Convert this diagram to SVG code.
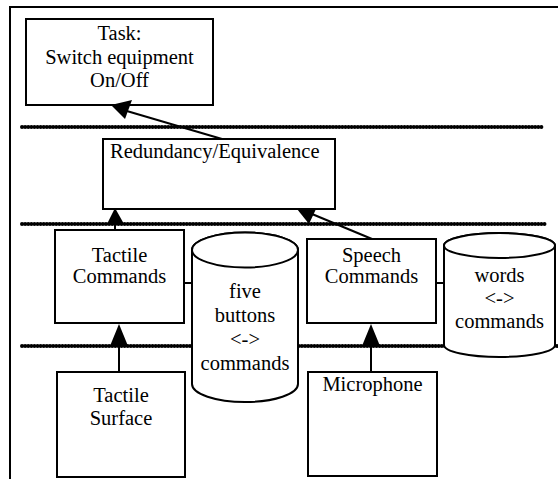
<svg xmlns="http://www.w3.org/2000/svg" width="558" height="479" viewBox="0 0 558 479">
<style>
.box{fill:#fff;stroke:#000;stroke-width:2}
.cyl{fill:#fff;stroke:#000;stroke-width:2}
.sep{stroke:#000;stroke-width:4;stroke-dasharray:0.01 3.1;stroke-linecap:round;fill:none}
.ln{stroke:#000;stroke-width:2;fill:none}
text{font-family:'Liberation Serif','DejaVu Serif',serif;font-size:20.5px;fill:#000;text-anchor:middle}
</style>
<rect x="0" y="0" width="558" height="479" fill="#fff"/>
<path class="ln" d="M10,479 V7 H558"/>
<g id="separators">
<line class="sep" x1="22" y1="127" x2="543" y2="127"/>
<line class="sep" x1="22" y1="224" x2="547" y2="224"/>
<line class="sep" x1="22" y1="346" x2="557" y2="346"/>
</g>
<g id="task" font-family="Liberation Serif, serif">
<rect class="box" x="26" y="19" width="187" height="86"/>
<text x="119.5" y="40">Task:</text>
<text x="119.5" y="64">Switch equipment</text>
<text x="119.5" y="87">On/Off</text>
</g>
<g id="redundancy" font-family="Liberation Serif, serif">
<rect class="box" x="103" y="139" width="232" height="70"/>
<text x="110" y="158" style="text-anchor:start">Redundancy/Equivalence</text>
</g>
<g id="tactile-commands" font-family="Liberation Serif, serif">
<rect class="box" x="55" y="230" width="129" height="93"/>
<text x="119.5" y="262">Tactile</text>
<text x="119.5" y="283">Commands</text>
</g>
<g id="speech-commands" font-family="Liberation Serif, serif">
<rect class="box" x="307" y="239" width="129" height="84"/>
<text x="371.5" y="262">Speech</text>
<text x="371.5" y="283">Commands</text>
</g>
<g id="tactile-surface" font-family="Liberation Serif, serif">
<rect class="box" x="57" y="372" width="128" height="105"/>
<text x="121" y="402">Tactile</text>
<text x="121" y="425">Surface</text>
</g>
<g id="microphone" font-family="Liberation Serif, serif">
<rect class="box" x="308" y="372" width="129" height="104"/>
<text x="372.5" y="391">Microphone</text>
</g>
<g id="five-buttons" font-family="Liberation Serif, serif">
<path class="cyl" d="M192,250 V384 A53,18 0 0 0 298,384 V250 A53,17.5 0 0 0 192,250 Z"/>
<ellipse class="cyl" cx="245" cy="250" rx="53" ry="17.5"/>
<text x="245" y="298">five</text>
<text x="245" y="322">buttons</text>
<text x="245" y="346">&lt;-&gt;</text>
<text x="245" y="370">commands</text>
</g>
<g id="words" font-family="Liberation Serif, serif">
<path class="cyl" d="M444,245.5 V345 A55.5,12 0 0 0 555,345 V245.5 A55.5,12.5 0 0 0 444,245.5 Z"/>
<ellipse class="cyl" cx="499.5" cy="245.5" rx="55.5" ry="12.5"/>
<text x="499.5" y="282">words</text>
<text x="499.5" y="305">&lt;-&gt;</text>
<text x="499.5" y="328">commands</text>
</g>
<g id="connectors">
<line class="ln" x1="222" y1="139" x2="120" y2="109"/>
<polygon points="111,105 132,100 125,119" fill="#000"/>
<line class="ln" x1="115" y1="230" x2="115" y2="220"/>
<polygon points="115,208 107,224 124,224" fill="#000"/>
<line class="ln" x1="119" y1="372" x2="119" y2="340"/>
<polygon points="119,324 110,346 128,346" fill="#000"/>
<line class="ln" x1="371" y1="372" x2="371" y2="340"/>
<polygon points="371,324 362,346 380,346" fill="#000"/>
<line class="ln" x1="312" y1="214" x2="372" y2="239"/>
<polygon points="297,209 316,209 309,224" fill="#000"/>
<line class="ln" x1="184" y1="283" x2="192" y2="283"/>
<line class="ln" x1="436" y1="283" x2="444" y2="283"/>
</g>
</svg>
